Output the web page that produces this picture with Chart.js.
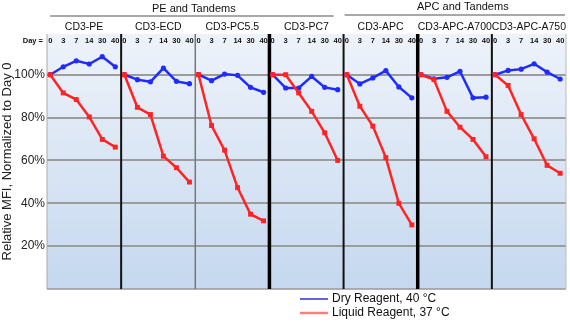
<!DOCTYPE html>
<html><head><meta charset="utf-8">
<script src="https://cdn.jsdelivr.net/npm/chart.js@4/dist/chart.umd.min.js"></script>
<style>html,body{margin:0;padding:0;background:#fff}#wrap{width:570px;height:323px;position:relative}</style>
</head><body><div id="wrap"><canvas id="c"></canvas></div>
<script>
const days = ['0','3','7','14','30','40'];
const panels = ['CD3-PE','CD3-ECD','CD3-PC5.5','CD3-PC7','CD3-APC','CD3-APC-A700','CD3-APC-A750'];
const groupNames = ['PE and Tandems','APC and Tandems'];
const yTicks = [20,40,60,80,100];
const seriesNames = ['Dry Reagent, 40 \u00B0C','Liquid Reagent, 37 \u00B0C'];
const dryPE   = [100,103.7,106.5,105,108.4,103.7];
const dryECD  = [100,97.7,96.7,103.1,96.9,95.8];
const dryPC55 = [100,97.2,100.3,99.7,94.1,91.8];
const dryPC7  = [100,93.8,93.8,99.2,94.1,93];
const dryAPC  = [100,95.7,98.5,101.9,94.3,89.2];
const dryA700 = [100,98.1,98.8,101.6,89.2,89.5];
const dryA750 = [100,102,102.6,105.1,101.2,98];
const liqPE   = [100,91.5,88.4,80.3,69.8,66.2];
const liqECD  = [100,84.8,81.4,62,56.6,49.9];
const liqPC55 = [100,76.3,64.8,47.3,34.9,31.8];
const liqPC7  = [100,100,91.5,82.9,72.9,60];
const liqAPC  = [100,85.3,76,61.3,40,29.9];
const liqA700 = [100,97.7,82.9,75.5,69.8,61.7];
const liqA750 = [100,95,81.4,70.1,57.7,54];
const dryAll = [dryPE,dryECD,dryPC55,dryPC7,dryAPC,dryA700,dryA750];
const liqAll = [liqPE,liqECD,liqPC55,liqPC7,liqAPC,liqA700,liqA750];

const W = 5.7, OFF = 0.25;
function build(all){
  const pts=[];
  all.forEach((arr,p)=>{
    arr.forEach((v,j)=>pts.push({x:p*W+OFF+j,y:v}));
    if(p<all.length-1) pts.push({x:p*W+W-0.01,y:null});
  });
  return pts;
}

const dividerStyles = [
  {c:'#aaaaaa',w:1},{c:'#111',w:2},{c:'#777',w:1.5},{c:'#000',w:3.5},{c:'#111',w:2},{c:'#000',w:3.5},{c:'#111',w:2},{c:'#bbbbbb',w:1}
];
const FONT='"Liberation Sans", Arial, sans-serif';

const deco = {
  id:'deco',
  beforeDraw(chart){
    const {ctx,chartArea:a}=chart;
    const g=ctx.createLinearGradient(0,a.top,0,a.bottom);
    g.addColorStop(0,'#eef3fa');
    g.addColorStop(1,'#c5d8ef');
    ctx.save();ctx.fillStyle=g;ctx.fillRect(a.left,a.top,a.right-a.left,a.bottom-a.top);ctx.restore();
  },
  beforeDatasetsDraw(chart){
    const {ctx,chartArea:a,scales:{x}}=chart;
    ctx.save();
    ctx.strokeStyle='#999';ctx.lineWidth=1.5;
    ctx.beginPath();ctx.moveTo(a.left,a.bottom);ctx.lineTo(a.right,a.bottom);ctx.stroke();
    for(let p=0;p<=panels.length;p++){
      const px=x.getPixelForValue(p*W);
      const s=dividerStyles[p];
      ctx.strokeStyle=s.c;ctx.lineWidth=s.w;
      ctx.beginPath();ctx.moveTo(px,a.top);ctx.lineTo(px,a.bottom);ctx.stroke();
    }
    ctx.restore();
  },
  afterDraw(chart){
    const {ctx,chartArea:a,scales:{x}}=chart;
    ctx.save();
    ctx.fillStyle='#111';
    ctx.textBaseline='middle';
    ctx.font='bold 7.5px '+FONT;
    ctx.textAlign='right';
    ctx.fillText('Day =',43,41);
    ctx.textAlign='center';
    for(let p=0;p<panels.length;p++){
      days.forEach((d,j)=>ctx.fillText(d,x.getPixelForValue(p*W+OFF+j),41));
    }
    ctx.font='10.5px '+FONT;
    for(let p=0;p<panels.length;p++){
      const cx=(x.getPixelForValue(p*W)+x.getPixelForValue((p+1)*W))/2;
      ctx.fillText(panels[p],cx,27);
    }
    ctx.font='11px '+FONT;
    ctx.strokeStyle='#a8a8a8';ctx.lineWidth=2;
    const g1l=x.getPixelForValue(0)+3, g1r=x.getPixelForValue(4*W)-10;
    const g2l=x.getPixelForValue(4*W)+1, g2r=x.getPixelForValue(7*W)-1;
    ctx.beginPath();ctx.moveTo(g1l,16);ctx.lineTo(g1r,16);ctx.stroke();
    ctx.beginPath();ctx.moveTo(g2l,15);ctx.lineTo(g2r,15);ctx.stroke();
    ctx.fillText(groupNames[0],(g1l+g1r)/2+2,9);
    ctx.fillText(groupNames[1],(g2l+g2r)/2+8,7);
    const ds=chart.data.datasets;
    const legendOrder=[1,0];
    ctx.font='12px '+FONT;
    ctx.textAlign='left';
    legendOrder.forEach((di,k)=>{
      const y=299+k*14;
      ctx.strokeStyle=k===0?'#3030c8':'#ff7f7f';ctx.lineWidth=k===0?1.5:2.5;
      ctx.beginPath();ctx.moveTo(300,y);ctx.lineTo(328,y);ctx.stroke();
      ctx.fillStyle='#111';
      ctx.fillText(ds[di].label,332,y);
    });
    ctx.restore();
  }
};

new Chart(document.getElementById('c'),{
  type:'line',
  data:{datasets:[
    {label:seriesNames[1],data:build(liqAll),borderColor:'#ff2424',backgroundColor:'#ff2424',borderWidth:2.5,pointStyle:'rect',pointRadius:3.5,pointBorderWidth:0,spanGaps:false,tension:0},
    {label:seriesNames[0],data:build(dryAll),borderColor:'#1f2bff',backgroundColor:'#1f2bff',borderWidth:2.5,pointStyle:'circle',pointRadius:2.6,pointBorderWidth:0,spanGaps:false,tension:0}
  ]},
  options:{
    responsive:true,maintainAspectRatio:false,animation:false,
    layout:{padding:{top:34,bottom:34,right:3,left:0}},
    plugins:{legend:{display:false},tooltip:{enabled:false}},
    scales:{
      x:{type:'linear',min:0,max:7*W,display:false},
      y:{min:0,max:119,
        afterBuildTicks(s){s.ticks=yTicks.map(v=>({value:v}));},
        afterFit(s){s.width=47;},
        ticks:{callback:v=>v+'%',color:'#222',font:{size:12,family:FONT},padding:2},
        grid:{color:'#9c9c9c',lineWidth:2,drawTicks:false},
        border:{display:false},
        title:{display:true,text:'Relative MFI, Normalized to Day 0',color:'#222',font:{size:13,family:FONT},padding:{top:0,bottom:1}}
      }
    }
  },
  plugins:[deco]
});
</script></body></html>
